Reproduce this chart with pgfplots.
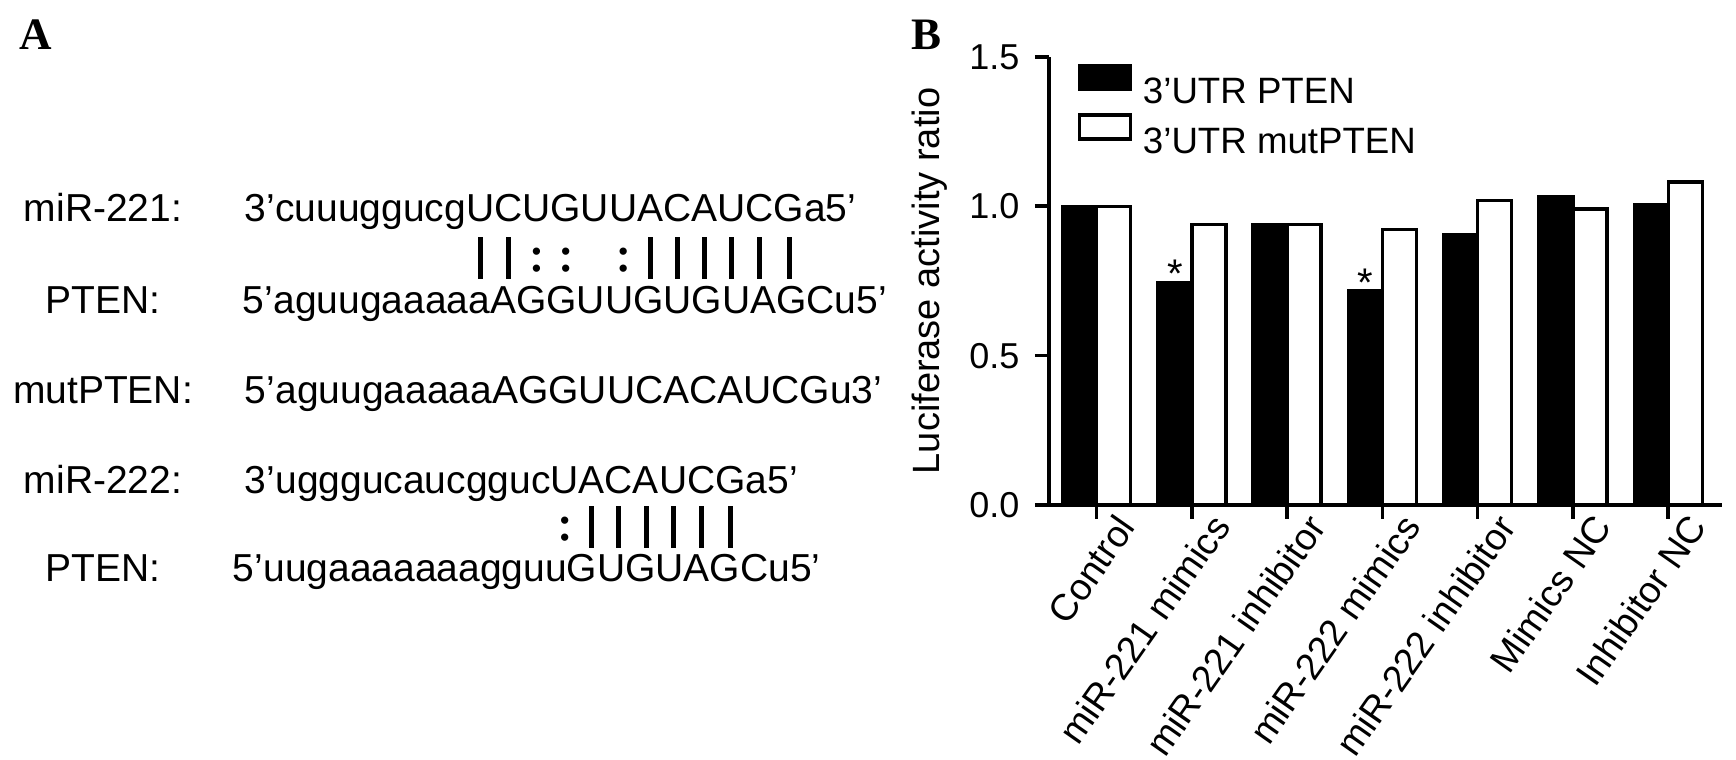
\documentclass[border=0pt]{standalone}
\usepackage{fontspec}
\setmainfont{Liberation Sans}
\newfontfamily\serifb{Liberation Serif}
\usepackage{pgfplots}
\pgfplotsset{compat=1.18}

% pairing marks, each as wide as the letter above it
\newlength\cw
\newcommand\bp[1]{\settowidth\cw{#1}\makebox[\cw][c]{\rule{1.5pt}{12.5pt}}}
\newcommand\cp[1]{\settowidth\cw{#1}\makebox[\cw][c]{\fontsize{8}{9}\selectfont\rlap{\raisebox{0.4pt}{•}}\raisebox{5.6pt}{•}}}
\newcommand\np[1]{\settowidth\cw{#1}\hspace*{\cw}}
\newcommand\seqfont{\fontsize{11.7}{14}\selectfont}

\pgfplotsset{mylegend/.style={legend image code/.code={%
  \draw[##1, line width=1pt] (0pt,0.3pt) rectangle (15.3pt,7.5pt);
  \path (18.6pt,0pt);}}}

\begin{document}
\begin{tikzpicture}
\begin{scope}[x=0.3pt, y=-0.3pt, shift={(-314.7pt,151.5pt)},
  every node/.style={inner sep=0pt, outer sep=0pt}]
  \useasboundingbox (0,0) rectangle (1736,760);
  % panel A
  \node[anchor=base west, font=\serifb\bfseries\fontsize{13.5}{15}\selectfont] at (20,50) {A};
  \node[anchor=base west, font=\serifb\bfseries\fontsize{13.5}{15}\selectfont] at (912,50) {B};

  \node[anchor=base, font=\seqfont] at (103,222) {miR-221:};
  \node[anchor=base, font=\seqfont] at (103,314) {PTEN:};
  \node[anchor=base, font=\seqfont] at (103,404) {mutPTEN:};
  \node[anchor=base, font=\seqfont] at (103,494) {miR-222:};
  \node[anchor=base, font=\seqfont] at (103,582) {PTEN:};

  \node[anchor=base west, font=\seqfont] at (245,222) {3’cuuuggucgUCUGUUACAUCGa5’};
  \node[anchor=base west, font=\seqfont] at (245,279)
    {\phantom{3’cuuuggucg}\bp{U}\bp{C}\cp{U}\cp{G}\np{U}\cp{U}\bp{A}\bp{C}\bp{A}\bp{U}\bp{C}\bp{G}};
  \node[anchor=base west, font=\seqfont] at (243,314) {5’aguugaaaaaAGGUUGUGUAGCu5’};
  \node[anchor=base west, font=\seqfont] at (245,404) {5’aguugaaaaaAGGUUCACAUCGu3’};
  \node[anchor=base west, font=\seqfont] at (245,494) {3’ugggucaucggucUACAUCGa5’};
  \node[anchor=base west, font=\seqfont] at (245,548)
    {\phantom{3’ugggucaucgguc}\cp{U}\bp{A}\bp{C}\bp{A}\bp{U}\bp{C}\bp{G}};
  \node[anchor=base west, font=\seqfont] at (233,582) {5’uugaaaaaaagguuGUGUAGCu5’};
\end{scope}

% panel B
\begin{axis}[
  at={(0,0)}, anchor=south west,
  scale only axis, width=201.9pt, height=134.4pt,
  xmin=-0.5, xmax=6.565, ymin=0, ymax=1.5,
  axis lines=left, axis line style={-, line width=1.1pt, black},
  ybar, bar width=10.2pt,
  tick align=outside, major tick length=4.2pt,
  tick style={line width=1.1pt, black},
  xtick={0,...,6},
  xticklabels={Control, miR-221 mimics, miR-221 inhibitor, miR-222 mimics,
    miR-222 inhibitor, Mimics NC, Inhibitor NC},
  xticklabel style={rotate=55, anchor=north east, inner sep=0pt,
    xshift=5pt, yshift=-3pt, font=\fontsize{11.2}{13}\selectfont},
  ytick={0,0.5,1,1.5},
  yticklabel style={/pgf/number format/fixed, /pgf/number format/fixed zerofill,
    /pgf/number format/precision=1, /pgf/number format/assume math mode=true,
    inner sep=0pt, xshift=-4.5pt, font=\fontsize{10.8}{12}\selectfont},
  ylabel={Luciferase activity ratio},
  ylabel style={at={(axis description cs:-0.177,0.5)}, anchor=center,
    font=\fontsize{11.4}{13}\selectfont},
  legend style={draw=none, fill=none, at={(axis description cs:0.0416,0.9866)},
    anchor=north west, inner sep=0pt, row sep=3pt,
    nodes={inner sep=0pt, text height=7.9pt, text depth=0pt},
    font=\fontsize{11}{13}\selectfont},
  legend cell align=left,
  clip=false,
]
\addplot[fill=black, draw=black, line width=1pt, bar shift=-5.1pt, mylegend]
  coordinates {(0,1.000) (1,0.746) (2,0.939) (3,0.716) (4,0.905) (5,1.033) (6,1.006)};
\addplot[fill=white, draw=black, line width=1pt, bar shift=5.1pt, mylegend]
  coordinates {(0,1.000) (1,0.939) (2,0.939) (3,0.922) (4,1.020) (5,0.991) (6,1.082)};
\legend{3’UTR PTEN, 3’UTR mutPTEN}
% significance marks
\addplot[draw=none, fill=none, bar shift=-5.1pt, forget plot,
  nodes near coords={*},
  nodes near coords style={anchor=base, inner sep=0pt, yshift=-1.5pt,
    font=\fontsize{12}{13}\selectfont}]
  coordinates {(1,0.746) (3,0.716)};
\end{axis}
\end{tikzpicture}
\end{document}
